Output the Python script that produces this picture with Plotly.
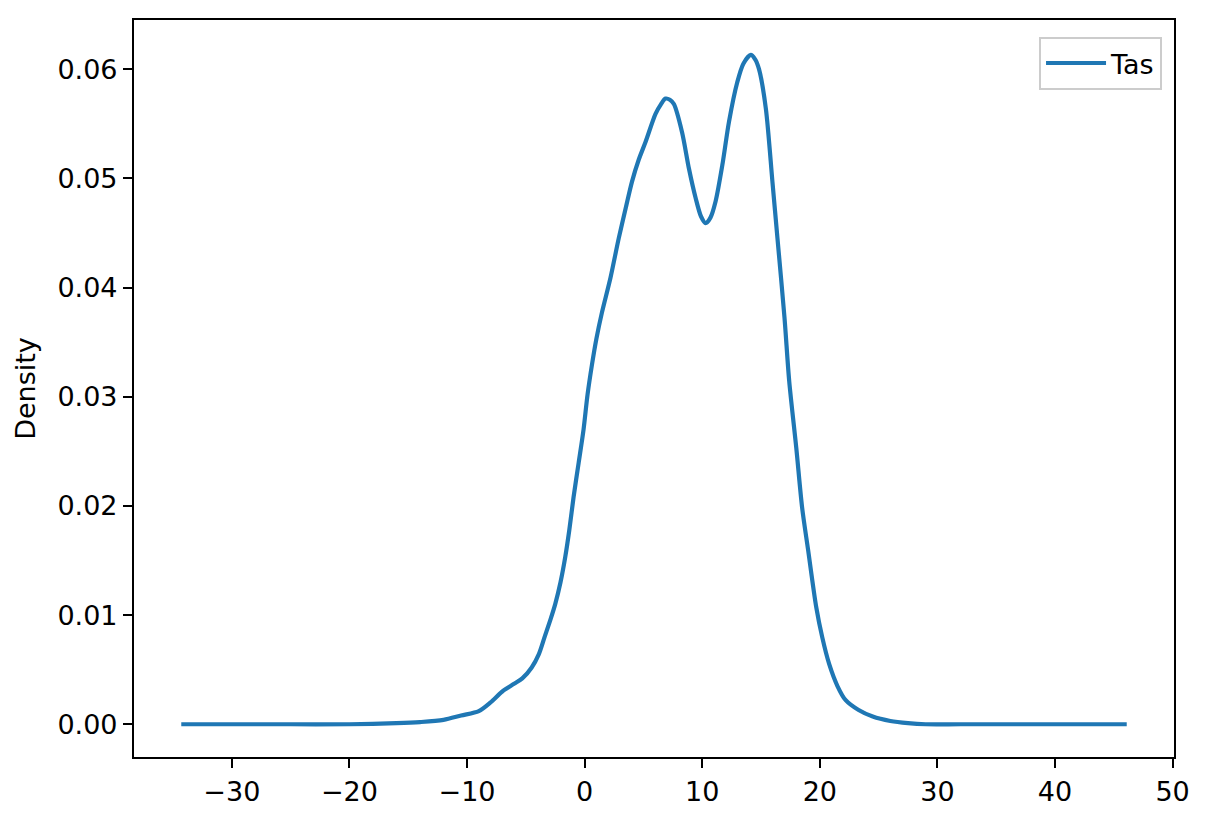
import plotly.graph_objects as go

# KDE curve of "Tas"
x_vals = [-34.3, -25.0, -20.0, -16.0, -14.0, -12.0, -10.5, -9.0, -8.0, -7.0, -6.0, -5.3,
          -4.5, -3.9, -3.4, -2.9, -2.5, -2.05, -1.65, -1.3, -0.94, -0.5, -0.09, 0.25, 0.62,
          1.0, 1.47, 2.2, 2.9, 3.5, 4.03, 4.6,
          5.17, 6.03, 6.5, 6.88, 7.25, 7.59, 8.29, 8.87, 9.44, 9.9, 10.29, 10.7, 11.14,
          11.71, 12.28, 12.98, 13.5, 14.13, 14.5, 14.83, 15.41, 15.97, 16.4, 17.0, 17.4,
          18.0, 18.5, 19.0, 19.7, 20.2, 20.8, 21.5, 22.2, 23.3, 24.5, 26.0, 27.5, 29.0,
          32.0, 40.0, 46.1]
density = [0.0, 0.0, 0.0, 0.0001, 0.0002, 0.0004, 0.0008, 0.0012, 0.0020, 0.0030, 0.0037,
           0.0042, 0.0052, 0.0064, 0.0080, 0.0096, 0.0110, 0.0130, 0.0153, 0.0178, 0.0208,
           0.0240, 0.0270, 0.0302, 0.0329, 0.0353, 0.0377, 0.0409,
           0.0445, 0.0473, 0.0497, 0.0517, 0.0533, 0.0559, 0.0568, 0.0573, 0.0572, 0.0568,
           0.0542, 0.0509, 0.0482, 0.0465, 0.0459, 0.0464, 0.0479, 0.0512, 0.0552, 0.0588,
           0.0605, 0.0613, 0.0609, 0.0600, 0.0564, 0.0497, 0.0445, 0.0372, 0.0314, 0.0253,
           0.0198, 0.0160, 0.0107, 0.0080, 0.0055, 0.0035, 0.0022, 0.0013, 0.0007, 0.0003,
           0.0001, 0.0, 0.0, 0.0, 0.0]
series_name = "Tas"
y_title = "Density"

FONT = "DejaVu Sans"
FS = 27

fig = go.Figure()
fig.add_trace(go.Scatter(
    x=x_vals, y=density, mode="lines", name=series_name,
    line=dict(color="#1f77b4", width=4.2, shape="spline", smoothing=0.8),
    showlegend=True,
))

axis_common = dict(
    showline=True, linecolor="black", linewidth=2.2, mirror=True,
    ticks="outside", ticklen=9, tickwidth=2.2, tickcolor="black",
    showgrid=False, zeroline=False,
    tickfont=dict(family=FONT, size=FS, color="black"),
)

# page body has an 8px margin; size the figure so the plot area lands where the reference has it
fig.update_layout(
    width=1202, height=814,
    margin=dict(l=126, r=36, t=10, b=65),
    paper_bgcolor="white", plot_bgcolor="white",
    font=dict(family=FONT, size=FS, color="black"),
    xaxis=dict(range=[-38.32, 50.12], tick0=0, dtick=10, **axis_common),
    yaxis=dict(range=[-0.003, 0.0645], tick0=0, dtick=0.01, tickformat=".2f",
               title=dict(text=y_title, font=dict(family=FONT, size=FS, color="black"),
                          standoff=14),
               **axis_common),
    legend=dict(x=0.9885, y=0.977, xanchor="right", yanchor="top",
                bgcolor="rgba(255,255,255,0.8)", bordercolor="#cccccc", borderwidth=2,
                itemwidth=60,
                font=dict(family=FONT, size=FS, color="black")),
)

fig.write_html("out.html")
